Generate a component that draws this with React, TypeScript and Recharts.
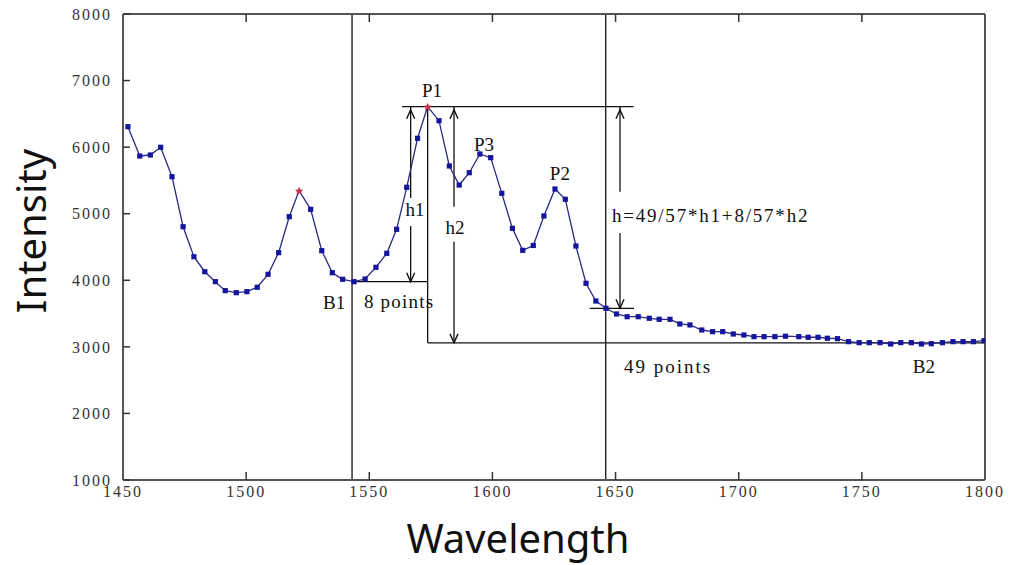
import React from 'react'
import { ComposedChart, Line, XAxis, YAxis, ReferenceLine, ReferenceDot, Label } from 'recharts'

// spectrum samples
const wavelengths = [
    1452.0, 1456.8, 1461.1, 1465.3, 1469.9, 1474.4, 1478.8, 1483.2, 1487.5, 1491.5,
    1496.0, 1500.3, 1504.5, 1508.9, 1513.2, 1517.5, 1521.5, 1526.2, 1530.7, 1535.0,
    1539.2, 1543.8, 1548.3, 1552.7, 1557.1, 1561.1, 1565.2, 1569.6, 1573.7, 1578.3,
    1582.5, 1586.5, 1590.6, 1594.9, 1599.3, 1603.8, 1608.1, 1612.3, 1616.6, 1620.9,
    1625.4, 1629.6, 1633.9, 1638.0, 1642.0, 1646.1, 1650.4, 1654.7, 1659.2, 1663.7,
    1667.7, 1672.1, 1676.1, 1680.2, 1685.0, 1689.4, 1693.5, 1697.8, 1702.1, 1706.2,
    1710.3, 1714.7, 1719.0, 1724.4, 1728.2, 1732.2, 1736.0, 1740.1, 1744.6, 1748.9,
    1753.0, 1757.4, 1761.7, 1765.8, 1770.1, 1774.2, 1778.2, 1782.7, 1787.0, 1791.1,
    1795.3, 1799.6,
]
const intensities = [
    6307, 5867, 5882, 5998, 5556, 4805, 4354, 4129, 3979, 3844,
    3814, 3829, 3895, 4090, 4415, 4955, 5346, 5066, 4445, 4114,
    4015, 3979, 4019, 4195, 4405, 4766, 5397, 6133, 6608, 6397,
    5717, 5431, 5616, 5897, 5842, 5306, 4781, 4450, 4523, 4966,
    5371, 5217, 4515, 3955, 3689, 3579, 3494, 3453, 3453, 3429,
    3414, 3414, 3344, 3329, 3253, 3228, 3228, 3193, 3178, 3153,
    3153, 3153, 3160, 3153, 3144, 3144, 3129, 3123, 3078, 3063,
    3063, 3063, 3043, 3063, 3063, 3043, 3048, 3063, 3078, 3078,
    3078, 3093,
]
const redMarks = [1521.5, 1573.7]

const xTicks = [1450, 1500, 1550, 1600, 1650, 1700, 1750, 1800]
const yTicks = [1000, 2000, 3000, 4000, 5000, 6000, 7000, 8000]

// annotation geometry, in data units
const P1 = { x: 1573.7, y: 6608 }
const B1 = { x: 1543, y: 3979 }
const baseLevel = 3060
const tailLevel = 3579
const guideXs = [1543, 1646]

const segments = [
    [{ x: 1563.3, y: P1.y }, { x: 1657.3, y: P1.y }],
    [{ x: B1.x, y: B1.y }, { x: P1.x, y: B1.y }],
    [{ x: P1.x, y: baseLevel }, { x: P1.x, y: P1.y }],
    [{ x: P1.x, y: baseLevel }, { x: 1800, y: baseLevel }],
    [{ x: 1639.5, y: tailLevel }, { x: 1657.5, y: tailLevel }],
]

const arrows = [
    { x: 1566.8, bottom: B1.y, gapTop: 5236, gapBottom: 4816 },
    { x: 1584.4, bottom: baseLevel, gapTop: 5105, gapBottom: 4580 },
    { x: 1651.8, bottom: tailLevel, gapTop: 5331, gapBottom: 4710 },
]

const notes = [
    { x: 1575.5, y: 6753, text: 'P1', anchor: 'middle', spacing: 0 },
    { x: 1596.6, y: 5942, text: 'P3', anchor: 'middle', spacing: 0 },
    { x: 1627.4, y: 5507, text: 'P2', anchor: 'middle', spacing: 0 },
    { x: 1535.7, y: 3569, text: 'B1', anchor: 'middle', spacing: 0 },
    { x: 1562.1, y: 3584, text: '8 points', anchor: 'middle', spacing: 1.2 },
    { x: 1568.6, y: 4966, text: 'h1', anchor: 'middle', spacing: 0 },
    { x: 1584.8, y: 4695, text: 'h2', anchor: 'middle', spacing: 0 },
    { x: 1648.5, y: 4876, text: 'h=49/57*h1+8/57*h2', anchor: 'start', spacing: 1.8 },
    { x: 1671.3, y: 2607, text: '49 points', anchor: 'middle', spacing: 2 },
    { x: 1775.2, y: 2607, text: 'B2', anchor: 'middle', spacing: 0 },
]

const data = wavelengths.map((w, i) => ({ x: w, y: intensities[i] }))

const serif = '"Liberation Serif", "Times New Roman", serif'
const ink = '#111'

function renderDot(p: any) {
    const { cx, cy, payload, index } = p
    if (redMarks.includes(payload.x)) {
        return (
            <polygon
                key={`d${index}`}
                points={`${cx},${cy - 4} ${cx + 1.2},${cy - 1.2} ${cx + 4},${cy - 1} ${cx + 2},${cy + 1.2} ${cx + 2.6},${cy + 4} ${cx},${cy + 2.4} ${cx - 2.6},${cy + 4} ${cx - 2},${cy + 1.2} ${cx - 4},${cy - 1} ${cx - 1.2},${cy - 1.2}`}
                fill="#c8324b"
            />
        )
    }
    return <rect key={`d${index}`} x={cx - 2.6} y={cy - 2.6} width={5.2} height={5.2} fill="#14149c" />
}

const upHead = (p: any) => (
    <path d={`M${p.cx - 4},${p.cy + 12} L${p.cx},${p.cy + 3} L${p.cx + 4},${p.cy + 12}`} fill="none" stroke={ink} strokeWidth={1.4} />
)
const downHead = (p: any) => (
    <path d={`M${p.cx - 4},${p.cy - 9} L${p.cx},${p.cy} L${p.cx + 4},${p.cy - 9}`} fill="none" stroke={ink} strokeWidth={1.4} />
)

export default function App() {
    return (
        <div style={{ position: 'absolute', left: 0, top: 0, background: '#fff' }}>
            <ComposedChart width={1018} height={565} data={data} margin={{ top: 13, right: 32, bottom: 55, left: 50 }}>
                <XAxis
                    dataKey="x"
                    type="number"
                    domain={[1450, 1800]}
                    ticks={xTicks}
                    allowDataOverflow
                    height={30}
                    tickSize={-8}
                    tickMargin={14}
                    stroke="#555"
                    axisLine={{ stroke: '#555', strokeWidth: 2 }}
                    tickLine={{ stroke: '#333', strokeWidth: 1.5 }}
                    tick={{ fill: '#333', fontSize: 16, fontFamily: serif, letterSpacing: 2 }}
                >
                    <Label
                        content={(props: any) => {
                            const vb = props.viewBox
                            return (
                                <text x={vb.x + vb.width / 2 - 36} y={vb.y + 73} textAnchor="middle" fontSize={40} fontFamily='"Noto Sans", sans-serif' fill={ink}>
                                    Wavelength
                                </text>
                            )
                        }}
                    />
                </XAxis>
                <XAxis
                    xAxisId="top"
                    orientation="top"
                    dataKey="x"
                    type="number"
                    domain={[1450, 1800]}
                    ticks={xTicks}
                    height={1}
                    tickSize={-8}
                    tickFormatter={() => ''}
                    axisLine={{ stroke: '#555', strokeWidth: 2 }}
                    tickLine={{ stroke: '#333', strokeWidth: 1.5 }}
                />
                <YAxis
                    type="number"
                    domain={[1000, 8000]}
                    ticks={yTicks}
                    allowDataOverflow
                    width={73}
                    tickSize={-7}
                    tickMargin={18}
                    axisLine={{ stroke: '#555', strokeWidth: 2 }}
                    tickLine={{ stroke: '#333', strokeWidth: 1.5 }}
                    tick={{ fill: '#333', fontSize: 16, fontFamily: serif, letterSpacing: 2 }}
                >
                    <Label
                        content={(props: any) => {
                            const vb = props.viewBox
                            const cx = vb.x - 20
                            const cy = vb.y + vb.height / 2 - 16
                            return (
                                <text x={cx} y={cy} transform={`rotate(-90 ${cx} ${cy})`} textAnchor="middle" dominantBaseline="central" fontSize={40} fontFamily='"Noto Sans", sans-serif' fill={ink}>
                                    Intensity
                                </text>
                            )
                        }}
                    />
                </YAxis>
                <YAxis
                    yAxisId="right"
                    orientation="right"
                    type="number"
                    domain={[1000, 8000]}
                    ticks={yTicks}
                    width={1}
                    tickSize={-7}
                    tickFormatter={() => ''}
                    axisLine={{ stroke: '#555', strokeWidth: 2 }}
                    tickLine={{ stroke: '#333', strokeWidth: 1.5 }}
                />

                {guideXs.map(gx => (
                    <ReferenceLine key={`g${gx}`} x={gx} stroke={ink} strokeWidth={1.3} />
                ))}
                {segments.map((s, i) => (
                    <ReferenceLine key={`s${i}`} segment={s} stroke={ink} strokeWidth={1.3} />
                ))}
                {arrows.map((a, i) => (
                    <ReferenceLine key={`at${i}`} segment={[{ x: a.x, y: P1.y }, { x: a.x, y: a.gapTop }]} stroke={ink} strokeWidth={1.3} />
                ))}
                {arrows.map((a, i) => (
                    <ReferenceLine key={`ab${i}`} segment={[{ x: a.x, y: a.gapBottom }, { x: a.x, y: a.bottom }]} stroke={ink} strokeWidth={1.3} />
                ))}
                {arrows.map((a, i) => (
                    <ReferenceDot key={`hu${i}`} x={a.x} y={P1.y} r={0} shape={upHead} />
                ))}
                {arrows.map((a, i) => (
                    <ReferenceDot key={`hd${i}`} x={a.x} y={a.bottom} r={0} shape={downHead} />
                ))}

                <Line
                    dataKey="y"
                    type="linear"
                    stroke="#2a2a80"
                    strokeWidth={1.3}
                    dot={renderDot}
                    activeDot={false}
                    isAnimationActive={false}
                />

                {notes.map((n, i) => (
                    <ReferenceDot
                        key={`n${i}`}
                        x={n.x}
                        y={n.y}
                        r={0}
                        shape={(p: any) => (
                            <text x={p.cx} y={p.cy} textAnchor={n.anchor} fontSize={19} fontFamily={serif} letterSpacing={n.spacing} fill={ink}>
                                {n.text}
                            </text>
                        )}
                    />
                ))}
            </ComposedChart>
        </div>
    )
}
